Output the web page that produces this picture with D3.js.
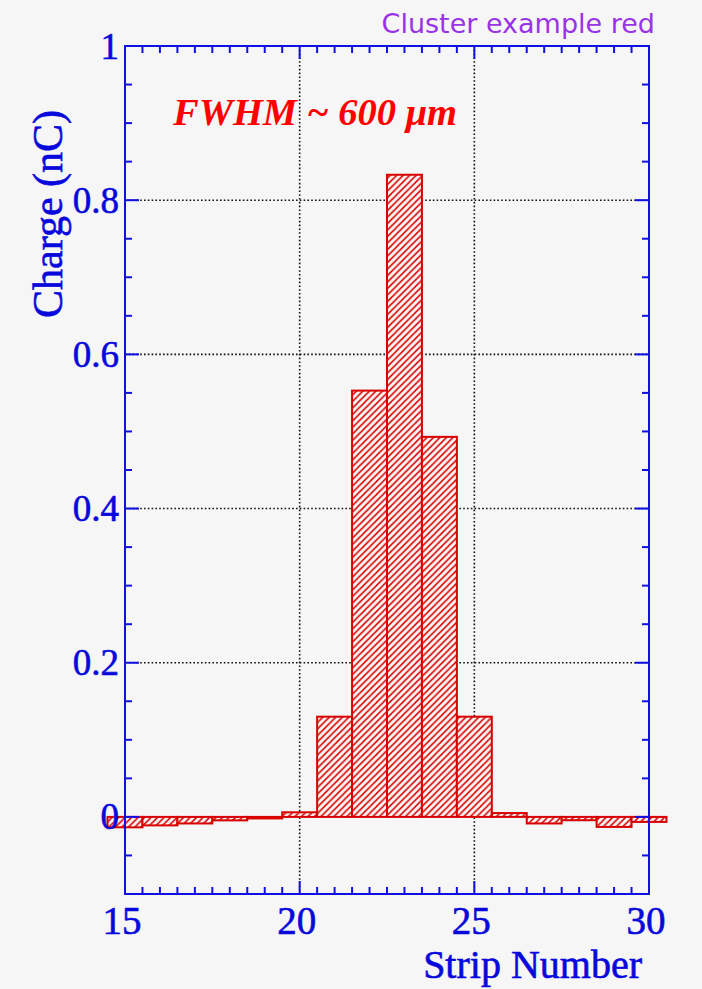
<!DOCTYPE html>
<html>
<head>
<meta charset="utf-8">
<script src="https://cdn.jsdelivr.net/npm/d3@7"></script>
<style>
  html, body { margin: 0; padding: 0; background: #f6f6f6; }
  svg { display: block; }
</style>
</head>
<body>
<svg id="chart" width="702" height="989"></svg>
<script>
// Strip numbers and collected charge per strip (nC)
const strips = [15, 16, 17, 18, 19, 20, 21, 22, 23, 24, 25, 26, 27, 28, 29, 30];
const charge = [-0.0135, -0.011, -0.0085, -0.0045, -0.002, 0.006, 0.13, 0.553, 0.833, 0.493, 0.13, 0.005, -0.0085, -0.0043, -0.013, -0.0065];

// Axis labels and ranges
const xTickLabels = [15, 20, 25, 30];
const yTickLabels = [0, 0.2, 0.4, 0.6, 0.8, 1];
const xDomain = [15, 30];
const yDomain = [-0.1, 1];

(function draw() {
  const svg = d3.select("#chart");
  const blue = "#1010e6";
  const textBlue = "#0808dc";
  const red = "#d80000";

  const frame = { left: 125, right: 649, top: 46, bottom: 894 };
  const x = d3.scaleLinear().domain(xDomain).range([frame.left, frame.right]);
  const y = d3.scaleLinear().domain(yDomain).range([frame.bottom, frame.top]);

  // Hatch pattern for histogram bins
  const defs = svg.append("defs");
  const hs = 6.5;
  const pat = defs.append("pattern")
    .attr("id", "hatch")
    .attr("patternUnits", "userSpaceOnUse")
    .attr("width", hs).attr("height", hs);
  pat.append("rect").attr("width", hs).attr("height", hs).attr("fill", "#f7f7f7");
  pat.append("path")
    .attr("d", `M-1,1 L1,-1 M0,${hs} L${hs},0 M${hs - 1},${hs + 1} L${hs + 1},${hs - 1}`)
    .attr("stroke", "#dc0000").attr("stroke-width", 1.5);

  // Dotted grid
  const grid = svg.append("g")
    .attr("stroke", "#111").attr("stroke-width", 1.6).attr("stroke-dasharray", "1.6,2.2");
  grid.selectAll("line.gx").data([20, 25]).join("line")
    .attr("x1", d => x(d)).attr("x2", d => x(d))
    .attr("y1", frame.top).attr("y2", frame.bottom);
  grid.selectAll("line.gy").data([0.2, 0.4, 0.6, 0.8]).join("line")
    .attr("x1", frame.left).attr("x2", frame.right)
    .attr("y1", d => y(d)).attr("y2", d => y(d));

  // Histogram bins
  const bins = strips.map((s, i) => ({ s, v: charge[i] }));
  svg.append("g").selectAll("rect").data(bins).join("rect")
    .attr("x", d => x(d.s - 0.5))
    .attr("width", d => x(d.s + 0.5) - x(d.s - 0.5))
    .attr("y", d => y(Math.max(0, d.v)))
    .attr("height", d => Math.abs(y(d.v) - y(0)))
    .attr("fill", "url(#hatch)")
    .attr("stroke", red).attr("stroke-width", 2);

  // Frame
  svg.append("rect")
    .attr("x", frame.left).attr("y", frame.top)
    .attr("width", frame.right - frame.left).attr("height", frame.bottom - frame.top)
    .attr("fill", "none").attr("stroke", blue).attr("stroke-width", 2);

  // Tick marks on all four sides
  const xMinor = d3.range(31).map(i => 15 + i * 0.5).filter(v => v > 15 && v < 30);
  const yMinor = d3.range(23).map(i => Math.round((-0.1 + i * 0.05) * 100) / 100).filter(v => v > -0.1 && v < 1);
  const isXMajor = v => v % 5 === 0;
  const isYMajor = v => Math.abs(Math.round(v * 5) - v * 5) < 1e-6;

  const ticks = svg.append("g").attr("stroke", blue).attr("stroke-width", 2);
  ticks.selectAll("line.b").data(xMinor).join("line")
    .attr("x1", d => x(d)).attr("x2", d => x(d))
    .attr("y1", frame.bottom).attr("y2", d => frame.bottom - (isXMajor(d) ? 13 : 7));
  ticks.selectAll("line.t").data(xMinor).join("line")
    .attr("x1", d => x(d)).attr("x2", d => x(d))
    .attr("y1", frame.top).attr("y2", d => frame.top + (isXMajor(d) ? 13 : 7));
  ticks.selectAll("line.l").data(yMinor).join("line")
    .attr("y1", d => y(d)).attr("y2", d => y(d))
    .attr("x1", frame.left).attr("x2", d => frame.left + (isYMajor(d) ? 14 : 7));
  ticks.selectAll("line.r").data(yMinor).join("line")
    .attr("y1", d => y(d)).attr("y2", d => y(d))
    .attr("x1", frame.right).attr("x2", d => frame.right - (isYMajor(d) ? 14 : 7));

  // Serif labels are drawn with a thin outline of their own colour for heavier strokes
  const serif = "'Liberation Serif', 'Times New Roman', serif";
  const label = sel => sel
    .attr("font-family", serif).attr("fill", textBlue)
    .attr("stroke", textBlue).attr("stroke-width", 0.6);

  // Tick labels
  svg.append("g").selectAll("text").data(yTickLabels).join("text")
    .attr("x", 119).attr("y", d => y(d)).attr("dy", "0.34em")
    .attr("text-anchor", "end").attr("font-size", 37)
    .call(label)
    .text(d => d3.format("~g")(d));
  svg.append("g").selectAll("text").data(xTickLabels).join("text")
    .attr("x", d => x(d) - 3).attr("y", 934)
    .attr("text-anchor", "middle").attr("font-size", 39)
    .call(label)
    .text(d => d);

  // Axis titles
  svg.append("text")
    .attr("x", 642).attr("y", 978)
    .attr("text-anchor", "end").attr("font-size", 40)
    .call(label)
    .text("Strip Number");
  svg.append("text")
    .attr("transform", "translate(62,214) rotate(-90)")
    .attr("text-anchor", "middle").attr("font-size", 42)
    .call(label)
    .text("Charge (nC)");

  // Annotation and header
  svg.append("text")
    .attr("x", 173).attr("y", 125)
    .attr("font-family", serif).attr("font-size", 38.5)
    .attr("font-weight", "bold").attr("font-style", "italic")
    .attr("fill", "#ff0000")
    .text("FWHM ~ 600 μm");
  svg.append("text")
    .attr("x", 655).attr("y", 33)
    .attr("text-anchor", "end")
    .attr("font-family", "'DejaVu Sans', Verdana, sans-serif").attr("font-size", 27)
    .attr("fill", "#9933e6")
    .text("Cluster example red");
})();
</script>
</body>
</html>
